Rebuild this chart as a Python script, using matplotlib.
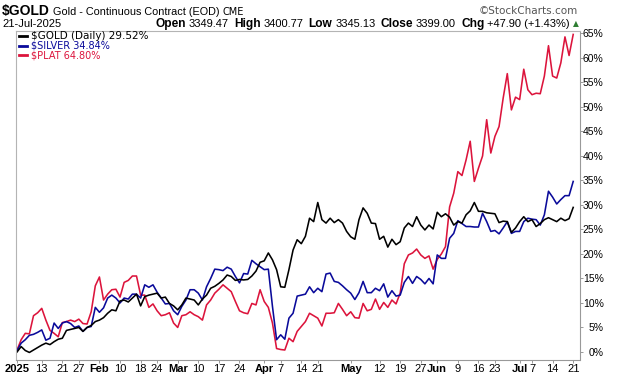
import matplotlib
matplotlib.use('Agg')
import matplotlib.pyplot as plt
from matplotlib.lines import Line2D

# % change since 2 Jan 2025, one value per trading day (136 days up to 21 Jul)
gold = [0.0, 1.1, 0.3, -0.1, 0.4, 0.9, 1.4, 1.8, 1.5, 2.1,
        2.6, 2.8, 4.4, 4.6, 4.8, 5.0, 4.2, 5.0, 5.4, 6.2,
        6.5, 7.0, 7.9, 8.6, 8.4, 10.4, 10.6, 10.2, 11.0, 11.8,
        9.4, 11.3, 11.6, 11.8, 12.0, 11.0, 11.2, 9.9, 9.4, 8.6,
        9.6, 11.0, 10.8, 10.6, 9.6, 10.8, 11.6, 13.0, 13.4, 14.0,
        14.7, 15.7, 15.4, 14.6, 14.8, 14.7, 14.8, 15.5, 16.5, 18.3,
        18.6, 20.2, 18.8, 16.8, 13.3, 13.2, 16.8, 20.8, 22.9, 22.1,
        23.6, 27.3, 26.6, 30.5, 27.0, 26.3, 27.3, 26.4, 27.0, 26.3,
        24.6, 23.5, 23.0, 27.0, 29.4, 28.3, 26.3, 26.2, 23.0, 23.6,
        21.4, 23.0, 21.9, 22.5, 25.3, 26.3, 25.6, 27.6, 25.9, 24.9,
        25.9, 25.1, 28.5, 27.6, 28.2, 27.5, 25.9, 26.6, 26.3, 28.0,
        28.8, 30.5, 28.7, 28.7, 28.4, 28.3, 28.2, 26.4, 26.7, 26.6,
        24.4, 25.3, 26.6, 27.6, 26.6, 27.0, 25.6, 26.2, 27.0, 27.4,
        27.0, 26.6, 27.3, 26.8, 27.2, 29.5]

silver = [0.3, 1.8, 2.5, 3.4, 3.6, 4.0, 4.5, 2.4, 2.8, 5.9,
          4.8, 5.9, 6.2, 5.8, 5.0, 5.3, 4.2, 5.0, 5.2, 9.1,
          8.1, 9.0, 11.0, 11.6, 11.0, 10.0, 11.0, 10.8, 11.8, 11.8,
          11.0, 13.7, 13.2, 13.7, 12.2, 11.0, 9.8, 9.9, 8.4, 7.6,
          9.3, 10.6, 12.7, 12.7, 12.0, 10.6, 13.3, 15.0, 16.9, 16.8,
          16.6, 17.3, 16.9, 15.4, 14.1, 16.0, 15.9, 18.7, 18.0, 17.4,
          16.8, 16.9, 9.3, 2.5, 3.5, 2.6, 6.9, 7.9, 11.4, 11.6,
          11.8, 13.3, 12.1, 13.0, 12.3, 15.9, 16.1, 14.4, 14.2, 13.5,
          12.7, 12.0, 10.7, 12.1, 14.4, 12.1, 12.1, 13.0, 12.5, 13.9,
          11.2, 12.5, 11.4, 11.6, 14.2, 15.4, 14.0, 15.4, 14.8, 13.9,
          15.0, 13.9, 19.8, 19.1, 19.1, 23.2, 24.2, 26.8, 26.2, 25.6,
          25.6, 25.5, 25.5, 28.3, 26.6, 24.6, 24.8, 24.1, 25.3, 26.6,
          24.2, 24.6, 24.6, 26.6, 27.3, 27.1, 27.0, 25.9, 28.0, 32.8,
          31.6, 30.2, 31.1, 31.9, 31.9, 34.8]

plat = [0.4, 2.5, 3.8, 3.7, 7.4, 8.0, 8.9, 6.5, 4.4, 3.8,
        3.1, 6.0, 6.2, 6.5, 6.2, 6.7, 5.8, 5.7, 8.2, 13.5,
        15.3, 10.6, 11.8, 12.7, 12.8, 11.2, 14.2, 14.6, 15.5, 15.5,
        11.6, 11.6, 9.1, 9.8, 8.4, 7.4, 7.6, 8.0, 5.9, 5.0,
        7.4, 7.6, 8.2, 7.6, 7.2, 6.5, 9.6, 10.6, 12.0, 12.8,
        13.7, 13.0, 12.3, 10.3, 8.4, 8.0, 7.8, 9.9, 9.6, 12.7,
        10.3, 9.1, 5.9, 0.7, 0.5, 0.4, 2.8, 2.1, 4.2, 5.2,
        6.2, 7.9, 7.4, 6.9, 5.3, 7.9, 7.9, 8.0, 9.9, 8.7,
        7.4, 8.2, 7.0, 6.9, 9.9, 8.4, 8.7, 10.8, 8.7, 10.1,
        9.1, 10.6, 9.8, 12.0, 18.0, 19.8, 20.2, 21.0, 19.8, 19.1,
        19.6, 16.9, 18.9, 20.0, 21.5, 29.6, 32.4, 36.8, 36.0, 39.2,
        43.0, 34.8, 37.5, 40.0, 47.4, 40.6, 44.0, 46.0, 51.8, 56.8,
        49.4, 52.0, 51.5, 57.7, 53.5, 52.5, 52.8, 52.7, 56.3, 62.5,
        56.3, 55.9, 59.0, 64.3, 60.5, 64.8]

# x tick positions (trading day index) and labels
tick_idx = [0, 6, 11, 15, 20, 25, 30, 34, 39, 44, 49, 54, 60, 64, 69, 73,
            81, 88, 93, 98, 102, 107, 112, 116, 122, 125, 130, 135]
tick_lab = ['2025', '13', '21', '27', 'Feb', '10', '18', '24', 'Mar', '10', '17', '24',
            'Apr', '7', '14', '21', 'May', '12', '19', '27', 'Jun', '9', '16', '23',
            'Jul', '7', '14', '21']
bold_lab = ['2025', 'Feb', 'Mar', 'Apr', 'May', 'Jun', 'Jul']

legend_txt = ['$GOLD (Daily) 29.52%', '$SILVER 34.84%', '$PLAT 64.80%']
c_gold, c_silver, c_plat = 'black', '#0a0a9a', '#dc143c'

W, H = 620, 376
fig = plt.figure(figsize=(W / 100, H / 100), dpi=100)
ax = fig.add_axes([16 / W, 16 / H, 564 / W, 329 / H])

x = list(range(len(gold)))
ax.plot(x, plat, color=c_plat, lw=1.15)
ax.plot(x, silver, color=c_silver, lw=1.15)
ax.plot(x, gold, color=c_gold, lw=1.15)

ax.set_xlim(-0.25, 136.65)
ax.set_ylim(-1.64, 65.5)

ax.yaxis.tick_right()
yt = list(range(0, 70, 5))
ax.set_yticks(yt)
ax.set_yticklabels([f'{v}%' for v in yt], fontsize=7.5, family='Liberation Sans')
for lab in ax.get_yticklabels():
    lab.set_horizontalalignment('right')
ax.tick_params(axis='y', length=2, width=0.7, color='#999999', pad=15)

ax.set_xticks(tick_idx)
ax.set_xticklabels(tick_lab, fontsize=8, family='Liberation Sans')
for lab in ax.get_xticklabels():
    if lab.get_text() in bold_lab:
        lab.set_fontweight('bold')
ax.tick_params(axis='x', length=2, width=0.7, color='#999999', pad=1)

for s in ['left', 'top']:
    ax.spines[s].set_color('#b4b4b4')
    ax.spines[s].set_linewidth(0.8)
for s in ['right', 'bottom']:
    ax.spines[s].set_color('#999999')
    ax.spines[s].set_linewidth(0.8)
    ax.spines[s].set_linestyle((0, (1, 1)))


def fx(px):
    return px / W


def fy(py):
    return 1 - py / H


renderer = fig.canvas.get_renderer()


def run_text(items, x0, y, gap):
    # draw text pieces one after another starting at pixel x0
    xpos = x0
    for s, kw in items:
        t = fig.text(fx(xpos), fy(y), s, va='baseline', **kw)
        xpos += t.get_window_extent(renderer).width + gap


# legend inside the plot
rows_y = [36, 45.5, 55]
for txt, col, yy, fs in zip(legend_txt, [c_gold, c_silver, c_plat], rows_y, [7.5, 7, 7]):
    fig.add_artist(Line2D([fx(19), fx(27)], [fy(yy), fy(yy)], color=col, lw=2))
    fig.text(fx(31), fy(yy), txt, color=col, fontsize=fs, family='DejaVu Sans', va='center')

# header
run_text([('$GOLD', dict(fontsize=10, fontweight='bold', family='Liberation Sans')),
          ('Gold - Continuous Contract (EOD)', dict(fontsize=7.8, family='Liberation Sans')),
          ('CME', dict(fontsize=7, family='DejaVu Sans'))], 2, 15, 3)
fig.text(fx(578), fy(14), '\u00a9StockCharts.com', fontsize=7.5, family='DejaVu Sans', color='#555555',
         ha='right', va='baseline')
fig.text(fx(2), fy(27), '21-Jul-2025', fontsize=8, family='Liberation Sans', va='baseline')

pieces = [('Open', 'bold'), ('3349.47', 'normal'), ('High', 'bold'), ('3400.77', 'normal'),
          ('Low', 'bold'), ('3345.13', 'normal'), ('Close', 'bold'), ('3399.00', 'normal'),
          ('Chg', 'bold'), ('+47.90 (+1.43%)', 'normal')]
texts = []
for s, w in pieces:
    fs = 8.6 if w == 'bold' else 8
    texts.append(fig.text(0, fy(27), s, fontsize=fs, fontweight=w, family='Liberation Sans', va='baseline'))
widths = [t.get_window_extent(renderer).width for t in texts]
gaps = [3 if i % 2 == 0 else 5 for i in range(len(texts))]
total = sum(widths) + sum(gaps[:-1])
xpos = 570 - total
for t, w, g in zip(texts, widths, gaps):
    t.set_x(fx(xpos))
    xpos += w + g
fig.text(fx(576), fy(26.5), '\u25b2', fontsize=5.5, color='#2e7d32', family='DejaVu Sans', ha='center', va='baseline')

fig.savefig('out.png', dpi=100)
